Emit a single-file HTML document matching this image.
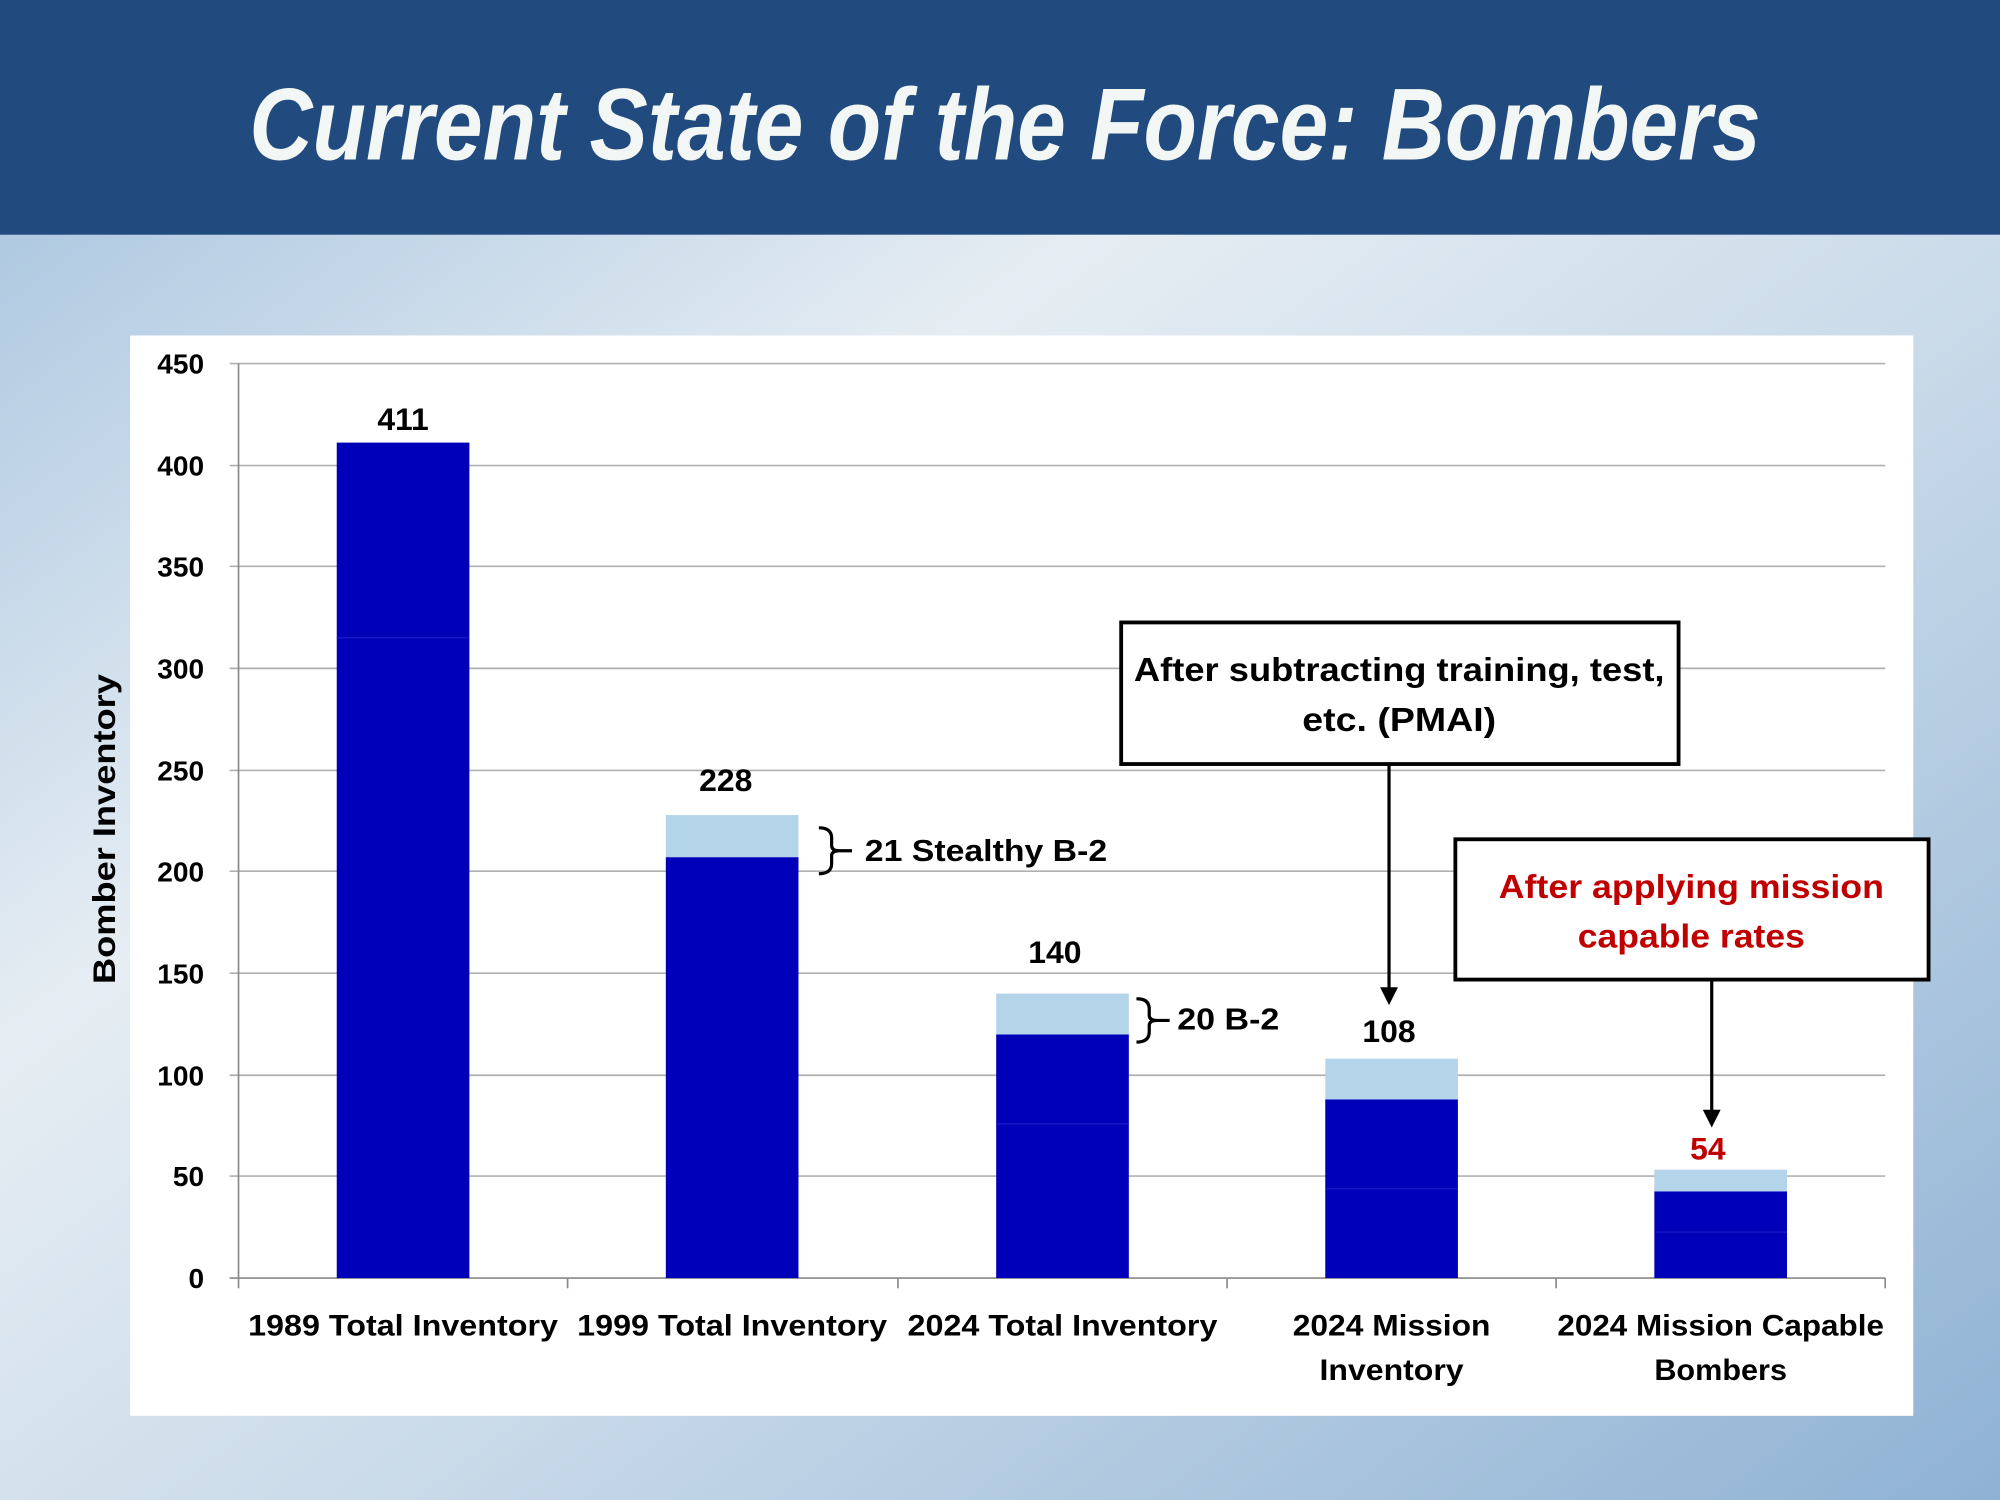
<!DOCTYPE html>
<html><head><meta charset="utf-8"><style>
html,body{margin:0;padding:0;width:2000px;height:1500px;overflow:hidden}
svg{display:block}
text{font-family:"Liberation Sans",sans-serif}
</style></head><body>
<svg width="2000" height="1500" viewBox="0 0 1568 1176" preserveAspectRatio="none">
<defs>
<linearGradient id="sky" x1="0" y1="0" x2="1" y2="1">
<stop offset="0" stop-color="#9fbfdc"/><stop offset="0.35" stop-color="#e6edf3"/><stop offset="0.6" stop-color="#c9dae9"/><stop offset="1" stop-color="#8fb2d4"/>
</linearGradient>
</defs>
<rect x="0" y="0" width="1568" height="1176" fill="url(#sky)"/>
<rect x="0" y="0" width="1568" height="184" fill="#214a7e"/>
<text x="788" y="125" text-anchor="middle" fill="#f2f6f4" font-size="80" font-weight="bold" font-style="italic" style="font-family:'Liberation Sans Narrow','Liberation Sans',sans-serif" textLength="1185" lengthAdjust="spacingAndGlyphs">Current State of the Force: Bombers</text>
<rect x="102" y="263" width="1398" height="847" fill="#ffffff"/>
<g stroke="#b0b0b0" stroke-width="1.3">
<line x1="180" y1="285" x2="1478" y2="285"/><line x1="180" y1="365" x2="1478" y2="365"/><line x1="180" y1="444" x2="1478" y2="444"/><line x1="180" y1="524" x2="1478" y2="524"/><line x1="180" y1="604" x2="1478" y2="604"/><line x1="180" y1="683" x2="1478" y2="683"/><line x1="180" y1="763" x2="1478" y2="763"/><line x1="180" y1="843" x2="1478" y2="843"/><line x1="180" y1="922" x2="1478" y2="922"/>
</g>
<g stroke="#888" stroke-width="1.3">
<line x1="187" y1="285" x2="187" y2="1002"/><line x1="180" y1="1002" x2="1478" y2="1002"/>
<line x1="187" y1="1002" x2="187" y2="1010"/><line x1="445" y1="1002" x2="445" y2="1010"/><line x1="704" y1="1002" x2="704" y2="1010"/><line x1="962" y1="1002" x2="962" y2="1010"/><line x1="1220" y1="1002" x2="1220" y2="1010"/><line x1="1478" y1="1002" x2="1478" y2="1010"/>
</g>
<g font-size="22" font-weight="bold" text-anchor="end" fill="#000">
<text x="160" y="293">450</text><text x="160" y="373">400</text><text x="160" y="452">350</text><text x="160" y="532">300</text><text x="160" y="612">250</text><text x="160" y="691">200</text><text x="160" y="771">150</text><text x="160" y="851">100</text><text x="160" y="930">50</text><text x="160" y="1010">0</text>
</g>
<text transform="translate(90,650) rotate(-90)" text-anchor="middle" font-size="25" font-weight="bold" textLength="243" lengthAdjust="spacingAndGlyphs">Bomber Inventory</text>
<g fill="#0000b8">
<rect x="264" y="347" width="104" height="655"/>
<rect x="522" y="672" width="104" height="330"/>
<rect x="781" y="811" width="104" height="191"/>
<rect x="1039" y="862" width="104" height="140"/>
<rect x="1297" y="934" width="104" height="68"/>
</g>
<g fill="#b4d4ea">
<rect x="522" y="639" width="104" height="33"/>
<rect x="781" y="779" width="104" height="32"/>
<rect x="1039" y="830" width="104" height="32"/>
<rect x="1297" y="917" width="104" height="17"/>
</g>
<g stroke="#1a1ac8" stroke-width="1"><line x1="264" y1="500" x2="368" y2="500"/><line x1="781" y1="881" x2="885" y2="881"/><line x1="1039" y1="932" x2="1143" y2="932"/><line x1="1297" y1="966" x2="1401" y2="966"/></g>
<g font-size="25" font-weight="bold" text-anchor="middle">
<text x="316" y="337">411</text><text x="569" y="620">228</text><text x="827" y="755">140</text><text x="1089" y="817">108</text><text x="1339" y="909" fill="#c00000">54</text>
</g>
<g fill="none" stroke="#000" stroke-width="2.5">
<path d="M642,649 q10,0 10,8 v6 q0,4 6,4 h10 M658,667 q-6,0 -6,4 v6 q0,8 -10,8"/>
<path d="M891,783 q10,0 10,8 v5 q0,4 6,4 h10 M907,800 q-6,0 -6,4 v5 q0,8 -10,8"/>
</g>
<g font-size="24" font-weight="bold"><text x="678" y="675" textLength="190" lengthAdjust="spacingAndGlyphs">21 Stealthy B-2</text><text x="923" y="807" textLength="80" lengthAdjust="spacingAndGlyphs">20 B-2</text></g>
<rect x="879" y="488" width="437" height="111" fill="#fff" stroke="#000" stroke-width="3"/>
<g font-size="26" font-weight="bold" text-anchor="middle"><text x="1097" y="534" textLength="416" lengthAdjust="spacingAndGlyphs">After subtracting training, test,</text><text x="1097" y="573" textLength="152" lengthAdjust="spacingAndGlyphs">etc. (PMAI)</text></g>
<line x1="1089" y1="600" x2="1089" y2="776" stroke="#000" stroke-width="2.5"/>
<polygon points="1082,774 1096,774 1089,788" fill="#000"/>
<rect x="1141" y="658" width="371" height="110" fill="#fff" stroke="#000" stroke-width="3"/>
<g font-size="26" font-weight="bold" text-anchor="middle" fill="#c00000"><text x="1326" y="704" textLength="302" lengthAdjust="spacingAndGlyphs">After applying mission</text><text x="1326" y="743" textLength="178" lengthAdjust="spacingAndGlyphs">capable rates</text></g>
<line x1="1342" y1="769" x2="1342" y2="872" stroke="#000" stroke-width="2.5"/>
<polygon points="1335,870 1349,870 1342,884" fill="#000"/>
<g font-size="23" font-weight="bold" text-anchor="middle">
<text x="316" y="1047" textLength="243" lengthAdjust="spacingAndGlyphs">1989 Total Inventory</text>
<text x="574" y="1047" textLength="243" lengthAdjust="spacingAndGlyphs">1999 Total Inventory</text>
<text x="833" y="1047" textLength="243" lengthAdjust="spacingAndGlyphs">2024 Total Inventory</text>
<text x="1091" y="1047" textLength="155" lengthAdjust="spacingAndGlyphs">2024 Mission</text><text x="1091" y="1082" textLength="113" lengthAdjust="spacingAndGlyphs">Inventory</text>
<text x="1349" y="1047" textLength="256" lengthAdjust="spacingAndGlyphs">2024 Mission Capable</text><text x="1349" y="1082" textLength="104" lengthAdjust="spacingAndGlyphs">Bombers</text>
</g>
</svg>
</body></html>
